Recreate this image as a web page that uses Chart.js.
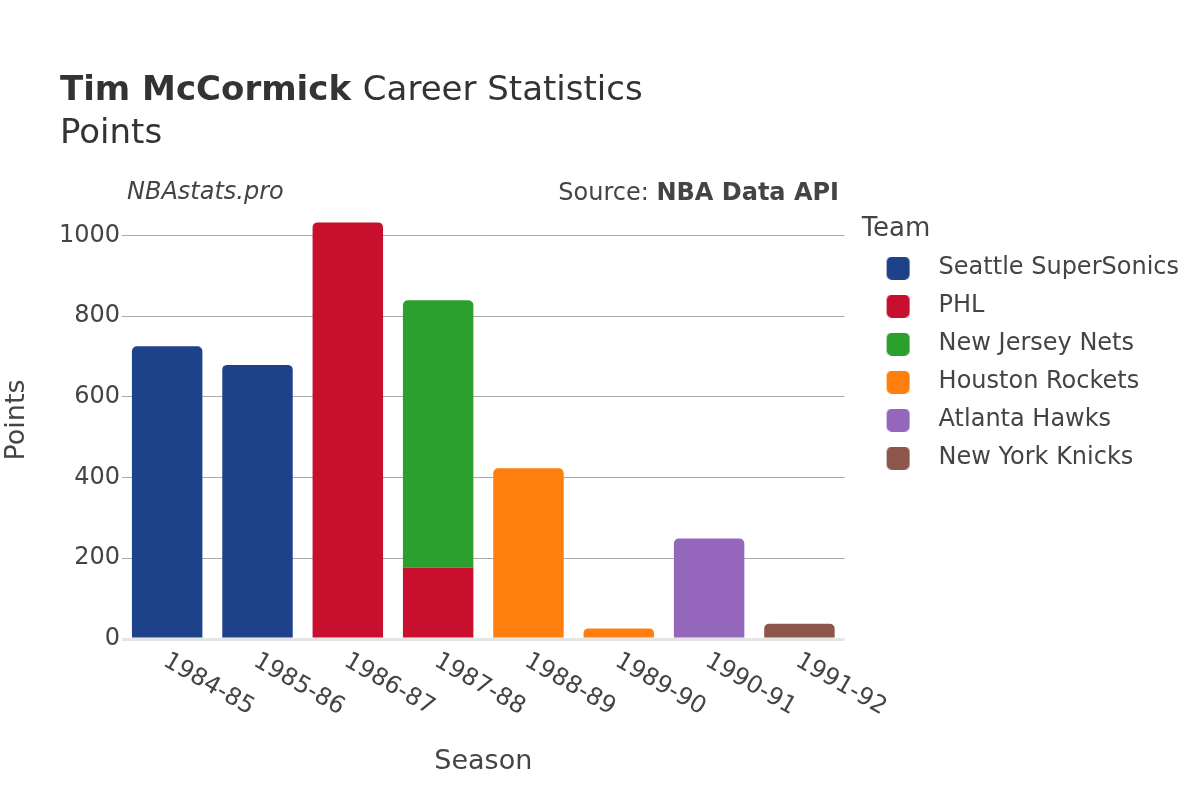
<!DOCTYPE html>
<html>
<head>
<meta charset="utf-8">
<script src="https://cdn.jsdelivr.net/npm/chart.js@4.4.1/dist/chart.umd.min.js"></script>
<style>
  body { margin: 0; background: #fff; }
</style>
</head>
<body>
<canvas id="chart" width="1200" height="800"></canvas>
<script>
const seasons = ['1984-85', '1985-86', '1986-87', '1987-88', '1988-89', '1989-90', '1990-91', '1991-92'];
const teams = ['Seattle SuperSonics', 'PHL', 'New Jersey Nets', 'Houston Rockets', 'Atlanta Hawks', 'New York Knicks'];
const teamColors = ['#1d428a', '#c8102e', '#2ca02c', '#ff7f0e', '#9467bd', '#8c564b'];
const seattlePts = [725, 679, null, null, null, null, null, null];
const phlPts = [null, null, 1032, 177, null, null, null, null];
const njPts = [null, null, null, 662, null, null, null, null];
const houstonPts = [null, null, null, null, 423, 26, null, null];
const atlantaPts = [null, null, null, null, null, null, 249, null];
const knicksPts = [null, null, null, null, null, null, null, 38];
const yTicks = [0, 200, 400, 600, 800, 1000];

const seriesValues = [seattlePts, phlPts, njPts, houstonPts, atlantaPts, knicksPts];
const FONT = "'DejaVu Sans', sans-serif";

// legend swatch: rounded square with some left indent
function swatch(color) {
    const c = document.createElement('canvas');
    c.width = 51;
    c.height = 23;
    const g = c.getContext('2d');
    g.fillStyle = color;
    g.beginPath();
    g.roundRect(11, 0, 23, 23, 5);
    g.fill();
    return c;
}

const datasets = teams.map((team, i) => ({
    label: team,
    data: seriesValues[i],
    backgroundColor: teamColors[i],
    borderRadius: 5,
    borderSkipped: 'start',
    barPercentage: 0.78,
    categoryPercentage: 1.0
}));

const textPlugin = {
    id: 'texts',
    afterDraw(chart) {
        const ctx = chart.ctx;
        ctx.save();
        ctx.textBaseline = 'alphabetic';
        ctx.textAlign = 'left';
        ctx.fillStyle = '#333';
        ctx.font = 'bold 34px ' + FONT;
        ctx.fillText('Tim McCormick', 60, 100);
        const w = ctx.measureText('Tim McCormick ').width;
        ctx.font = '34px ' + FONT;
        ctx.fillText('Career Statistics', 60 + w, 100);
        ctx.fillText('Points', 60, 143);

        ctx.fillStyle = '#444';
        ctx.font = 'italic 24px ' + FONT;
        ctx.fillText('NBAstats.pro', 127, 199);

        ctx.textAlign = 'right';
        ctx.font = 'bold 24px ' + FONT;
        ctx.fillText('NBA Data API', 839, 200);
        const bw = ctx.measureText('NBA Data API').width;
        ctx.font = '24px ' + FONT;
        ctx.fillText('Source: ', 839 - bw, 200);

        // rotated season labels
        const xs = chart.scales.x;
        ctx.textAlign = 'left';
        ctx.textBaseline = 'top';
        ctx.font = '24px ' + FONT;
        seasons.forEach((s, i) => {
            const px = xs.getPixelForValue(i);
            ctx.save();
            ctx.translate(px + 4, xs.top + 10);
            ctx.rotate(Math.PI / 6);
            ctx.fillText(s, 0, 0);
            ctx.restore();
        });
        ctx.restore();
    }
};

new Chart(document.getElementById('chart'), {
    type: 'bar',
    data: { labels: seasons, datasets },
    options: {
        responsive: false,
        animation: false,
        devicePixelRatio: 1,
        layout: { padding: { top: 201, right: 11, bottom: 0, left: 0 } },
        plugins: {
            legend: {
                position: 'right',
                align: 'start',
                maxWidth: 330,
                title: {
                    display: true,
                    text: 'Team',
                    position: 'start',
                    color: '#444',
                    font: { family: FONT, size: 26 },
                    padding: { top: 15, bottom: -5 }
                },
                labels: {
                    color: '#444',
                    font: { family: FONT, size: 24 },
                    usePointStyle: true,
                    pointStyleWidth: 51,
                    padding: 14,
                    generateLabels(chart) {
                        const items = Chart.defaults.plugins.legend.labels.generateLabels(chart);
                        items.forEach((it, i) => { it.pointStyle = swatch(teamColors[i]); });
                        return items;
                    }
                }
            },
            tooltip: { enabled: false }
        },
        scales: {
            x: {
                stacked: true,
                grid: { display: false },
                border: { display: false },
                ticks: { display: false },
                title: {
                    display: true,
                    text: 'Season',
                    color: '#444',
                    font: { family: FONT, size: 27 },
                    padding: { top: 0, bottom: 22 }
                },
                afterFit(scale) { scale.height = 161; }
            },
            y: {
                stacked: true,
                min: 0,
                max: 1085,
                border: { display: false },
                grid: {
                    drawTicks: false,
                    color: ctx => ctx.tick && ctx.tick.value === 0 ? '#e5e5e5' : '#aaaaaa',
                    lineWidth: ctx => ctx.tick && ctx.tick.value === 0 ? 3 : 1
                },
                ticks: {
                    padding: 2,
                    color: '#444',
                    font: { family: FONT, size: 24 },
                    callback: v => String(v)
                },
                afterBuildTicks(scale) {
                    scale.ticks = yTicks.map(v => ({ value: v }));
                },
                title: {
                    display: true,
                    text: 'Points',
                    color: '#444',
                    font: { family: FONT, size: 27 },
                    padding: { top: 1, bottom: 0 }
                },
                afterFit(scale) { scale.width = 122; }
            },
            gap: {
                type: 'linear',
                position: 'right',
                display: true,
                grid: { display: false },
                border: { display: false },
                ticks: { display: false },
                afterFit(scale) { scale.width = 17; }
            }
        }
    },
    plugins: [textPlugin]
});
</script>
</body>
</html>
